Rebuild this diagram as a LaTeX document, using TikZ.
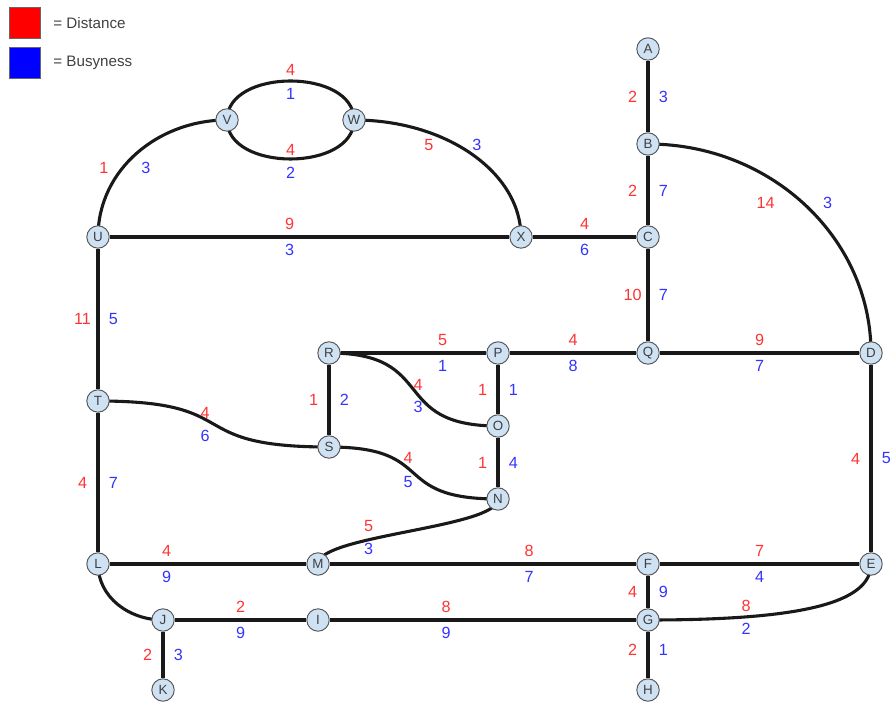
\documentclass[tikz,border=0pt]{standalone}
\usepackage{fontspec}
\setmainfont{Liberation Sans}
\usetikzlibrary{backgrounds,positioning}

\definecolor{distred}{HTML}{FF3333}
\definecolor{busyblue}{HTML}{3333FF}
\definecolor{stopblue}{HTML}{CFE2F3}

\begin{document}
\begin{tikzpicture}[x=0.025cm, y=0.025cm,
    stop/.style={circle, draw=black!65, fill=stopblue, line width=0.7pt, minimum size=0.56cm, inner sep=0pt, text=black!75, font=\fontsize{9.5}{9.5}\selectfont},
    road/.style={line width=2.2pt, draw=black!90},
    dist/.style={text=distred, font=\fontsize{11.5}{12}\selectfont},
    busy/.style={text=busyblue, font=\fontsize{11.5}{12}\selectfont},
    distL/.style={dist, xshift=-11pt},
    busyR/.style={busy, xshift=11pt},
    distA/.style={dist, yshift=9pt},
    busyB/.style={busy, yshift=-9pt},
    key/.style={draw=black!60, line width=0.6pt, minimum size=0.775cm, inner sep=0pt},
    keytext/.style={text=black!75, font=\fontsize{10.8}{11}\selectfont}]
\useasboundingbox (0,0) rectangle (891,703);

% Legend
\node[key, fill=red] (keyDist) at (24.5,680) {};
\node[key, fill=blue] (keyBusy) at (24.5,640.5) {};
\node[keytext, right=0.2cm of keyDist] (txtDist) {= Distance};
\node[keytext, right=0.2cm of keyBusy] (txtBusy) {= Busyness};

% Stops
\node[stop] (A) at (648,654) {A};
\node[stop] (B) at (648,559) {B};
\node[stop] (C) at (648,466) {C};
\node[stop] (X) at (521,466) {X};
\node[stop] (U) at (98,466) {U};
\node[stop] (V) at (227,583) {V};
\node[stop] (W) at (354,583) {W};
\node[stop] (Q) at (648,350) {Q};
\node[stop] (D) at (871,350) {D};
\node[stop] (P) at (498,350) {P};
\node[stop] (R) at (329,350) {R};
\node[stop] (O) at (498,277) {O};
\node[stop] (S) at (329,256) {S};
\node[stop] (N) at (498,204) {N};
\node[stop] (T) at (98,302) {T};
\node[stop] (L) at (98,139) {L};
\node[stop] (M) at (318,139) {M};
\node[stop] (F) at (648,139) {F};
\node[stop] (E) at (871,139) {E};
\node[stop] (J) at (163,83) {J};
\node[stop] (I) at (318,83) {I};
\node[stop] (G) at (648,83) {G};
\node[stop] (K) at (163,13) {K};
\node[stop] (H) at (648,13) {H};

\begin{scope}[on background layer]
    % Straight roads
    \draw[road] (A) -- node[distL]{2} node[busyR]{3} (B);
    \draw[road] (B) -- node[distL]{2} node[busyR]{7} (C);
    \draw[road] (C) -- node[distL]{10} node[busyR]{7} (Q);
    \draw[road] (U) -- node[pos=.45, distA]{9} node[pos=.45, busyB]{3} (X);
    \draw[road] (X) -- node[distA]{4} node[busyB]{6} (C);
    \draw[road] (U) -- node[distL]{11} node[busyR]{5} (T);
    \draw[road] (T) -- node[distL]{4} node[busyR]{7} (L);
    \draw[road] (R) -- node[pos=.7, distA]{5} node[pos=.7, busyB]{1} (P);
    \draw[road] (P) -- node[distA]{4} node[busyB]{8} (Q);
    \draw[road] (Q) -- node[distA]{9} node[busyB]{7} (D);
    \draw[road] (R) -- node[distL]{1} node[busyR]{2} (S);
    \draw[road] (P) -- node[distL]{1} node[busyR]{1} (O);
    \draw[road] (O) -- node[distL]{1} node[busyR]{4} (N);
    \draw[road] (D) -- node[distL]{4} node[busyR]{5} (E);
    \draw[road] (L) -- node[pos=.29, distA]{4} node[pos=.29, busyB]{9} (M);
    \draw[road] (M) -- node[pos=.65, distA]{8} node[pos=.65, busyB]{7} (F);
    \draw[road] (F) -- node[distA]{7} node[busyB]{4} (E);
    \draw[road] (F) -- node[distL]{4} node[busyR]{9} (G);
    \draw[road] (J) -- node[distA]{2} node[busyB]{9} (I);
    \draw[road] (I) -- node[pos=.38, distA]{8} node[pos=.38, busyB]{9} (G);
    \draw[road] (G) -- node[pos=.4, distL]{2} node[pos=.4, busyR]{1} (H);
    \draw[road] (J) -- node[distL]{2} node[busyR]{3} (K);

    % Curved roads
    \draw[road] (U.center) to[out=90, in=180] node[pos=.4, dist, shift={(-20,-2)}]{1} node[pos=.4, busy, shift={(22,-2)}]{3} (V.center);
    \draw[road] (V.center) to[out=90, in=90, looseness=1.05] node[dist, shift={(0,11.5)}]{4} node[busy, shift={(0,-12.5)}]{1} (W.center);
    \draw[road] (V.center) to[out=-90, in=-90, looseness=1.05] node[dist, shift={(0,9.5)}]{4} node[busy, shift={(0,-13.5)}]{2} (W.center);
    \draw[road] (W.center) .. controls +(93,0) and +(0,64) .. node[pos=.4, dist, shift={(-24,-2)}]{5} node[pos=.4, busy, shift={(24,-2)}]{3} (X.center);
    \draw[road] (B.center) .. controls +(123,0) and +(0,115) .. node[dist, shift={(-40,2)}]{14} node[busy, shift={(22,2)}]{3} (D.center);
    \draw[road] (R.center) .. controls +(110,0) and +(-110,0) .. node[dist, shift={(4.5,4.5)}]{4} node[busy, shift={(4.5,-17.5)}]{3} (O.center);
    \draw[road] (T.center) .. controls +(150,0) and +(-150,0) .. node[dist, shift={(-8.5,11)}]{4} node[busy, shift={(-8.5,-12)}]{6} (S.center);
    \draw[road] (S.center) .. controls +(110,0) and +(-110,0) .. node[dist, shift={(-5.5,15)}]{4} node[busy, shift={(-5.5,-9)}]{5} (N.center);
    \draw[road] (N.center) .. controls +(0,-29) and +(0,29) .. node[pos=.65, dist, shift={(0,14)}]{5} node[pos=.65, busy, shift={(0,-9)}]{3} (M.center);
    \draw[road] (G.center) .. controls +(150,0) and +(0,-40) .. node[pos=.25, dist, shift={(0,11)}]{8} node[pos=.25, busy, shift={(0,-12)}]{2} (E.center);
    \draw[road] (L.center) to[out=-90, in=180] (J.center);
\end{scope}
\end{tikzpicture}
\end{document}
